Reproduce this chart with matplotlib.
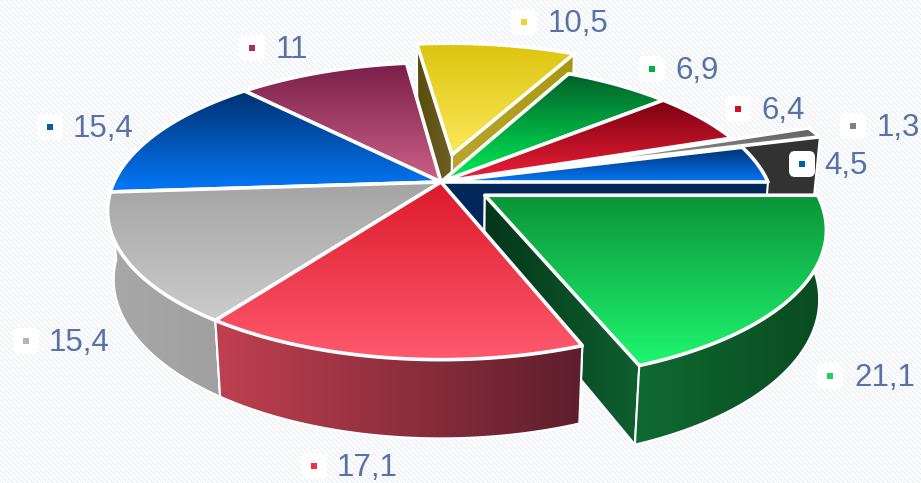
import numpy as np
import matplotlib
matplotlib.use("Agg")
from matplotlib import pyplot as plt
from matplotlib.colors import LinearSegmentedColormap
from matplotlib.patches import Polygon, FancyBboxPatch

# data, clockwise from east
labels = ["21,1", "17,1", "15,4", "15,4", "11", "10,5", "6,9", "6,4", "1,3", "4,5"]
values = [21.1, 17.1, 15.4, 15.4, 11, 10.5, 6.9, 6.4, 1.3, 4.5]
explode = [0.16, 0, 0, 0, 0, 0.2, 0, 0, 0.28, 0]

# colours
top_dark = ["#0a9438", "#dc1a2c", "#a4a4a4", "#003070", "#7a1f48", "#dcc40e", "#005f28", "#7a0010", "#606060", "#003070"]
top_light = ["#1ff770", "#ff5a6e", "#cccccc", "#0478f8", "#cc6088", "#fbe95a", "#00f058", "#f02038", "#a0a0a0", "#0478f8"]
wall_left = ["#0f6a32", "#c04050", "#a8a8a8", "#003070", "#7a1f48", "#a89810", "#004a20", "#5a0010", "#303030", "#003070"]
wall_right = ["#0a4a20", "#5e1e2c", "#a0a0a0", "#003070", "#7a1f48", "#a89810", "#004a20", "#5a0010", "#303030", "#003070"]
# radial walls: colour at left end, colour at right end
start_l = ["#0c4420", "#8c2c3a", "#999999", "#003070", "#5a1535", "#5a4c08", "#004a20", "#5a0010", "#707070", "#303030"]
start_r = ["#0c4420", "#8c2c3a", "#999999", "#003070", "#5a1535", "#6e6028", "#004a20", "#5a0010", "#707070", "#303030"]
end_l = ["#04361a", "#8c2c3a", "#999999", "#003070", "#5a1535", "#b8a630", "#004a20", "#5a0010", "#303030", "#02275a"]
end_r = ["#0f6030", "#8c2c3a", "#999999", "#003070", "#5a1535", "#a89810", "#004a20", "#5a0010", "#333333", "#02275a"]
mark_col = ["#1ad060", "#f03040", "#b4b4b4", "#0060b0", "#a83060", "#ecd530", "#00b040", "#d01020", "#808080", "#0060b0"]

# where the labels sit: square x, square y, text x
label_pos = [(830, 376, 854), (314, 466, 337), (26, 341, 49), (50, 127, 73), (252, 48, 276),
             (524, 22, 548), (652, 69, 675), (738, 109, 761), (853, 126, 877), (802, 164, 824)]

W, H = 921, 483
CX, CY = 441, 182
RX, RY = 327, 143
K, C, D = 0.195, 0.018, 68


def proj(u, v, w=0):
    den = 1 - K * v + C * w
    return CX + RX * u / den, CY + (RY * v + D * w) / den


def grad(ax, pts, c0, c1, z, horizontal=False, lw=2.6):
    poly = Polygon(pts, closed=True, fc="none", ec="white", lw=lw, zorder=z + 0.5, joinstyle="round")
    ax.add_patch(poly)
    x0, x1 = pts[:, 0].min(), pts[:, 0].max()
    y_a, y_b = pts[:, 1].min(), pts[:, 1].max()
    g = np.linspace(0, 1, 256)
    g = g.reshape(1, -1) if horizontal else g.reshape(-1, 1)
    cmap = LinearSegmentedColormap.from_list("g", [c0, c1])
    im = ax.imshow(g, cmap=cmap, extent=(x0, x1, y_b, y_a), aspect="auto", zorder=z, interpolation="bilinear")
    im.set_clip_path(Polygon(pts, closed=True, transform=ax.transData))


fig = plt.figure(figsize=(W / 100, H / 100), dpi=100)
ax = fig.add_axes([0, 0, 1, 1])

# striped page background
yy, xx = np.mgrid[0:H, 0:W]
stripes = ((xx - yy) % 5 < 2).astype(float)
ax.imshow(stripes, cmap=LinearSegmentedColormap.from_list("b", ["#ffffff", "#eef0f8"]),
          extent=(0, W, H, 0), aspect="auto", zorder=0, interpolation="nearest")

angles = np.cumsum([0] + values) / sum(values) * 2 * np.pi
mids = (angles[:-1] + angles[1:]) / 2
draw_order = sorted(range(len(values)), key=lambda i: np.sin(mids[i]))

z = 1
for i in draw_order:
    a = np.linspace(angles[i], angles[i + 1], 80)
    ou, ov = explode[i] * np.cos(mids[i]), explode[i] * np.sin(mids[i])
    u, v = ou + np.cos(a), ov + np.sin(a)
    rim_top = np.column_stack(proj(u, v, 0))
    rim_bot = np.column_stack(proj(u, v, 1))
    apex_top = np.array(proj(ou, ov, 0))
    apex_bot = np.array(proj(ou, ov, 1))

    # radial walls
    pts = np.array([apex_top, rim_top[0], rim_bot[0], apex_bot])
    grad(ax, pts, start_l[i], start_r[i], z, horizontal=True, lw=1.5)
    z += 1
    pts = np.array([apex_top, rim_top[-1], rim_bot[-1], apex_bot])
    grad(ax, pts, end_l[i], end_r[i], z, horizontal=True, lw=1.5)
    z += 1

    # outer wall, only the front part shows
    if np.sin(mids[i]) > 0:
        pts = np.vstack([rim_top, rim_bot[::-1]])
        grad(ax, pts, wall_left[i], wall_right[i], z, horizontal=True, lw=1.5)
        z += 1

    # top face
    pts = np.vstack([apex_top, rim_top])
    grad(ax, pts, top_dark[i], top_light[i], z)
    z += 1

# labels
for i in range(len(values)):
    sx, sy, tx = label_pos[i]
    ax.add_patch(FancyBboxPatch((sx - 10, sy - 10), 20, 20, boxstyle="round,pad=3,rounding_size=6",
                                fc="white", ec="none", zorder=z))
    ax.add_patch(plt.Rectangle((sx - 3, sy - 3), 6, 6, fc=mark_col[i], ec="none", zorder=z + 1))
    ax.text(tx, sy + 2, labels[i], family="Liberation Sans", fontsize=22.5, color="#5672a6",
            ha="left", va="center", zorder=z + 2)

ax.set_xlim(0, W)
ax.set_ylim(H, 0)
ax.axis("off")
fig.savefig("out.png", dpi=100)
